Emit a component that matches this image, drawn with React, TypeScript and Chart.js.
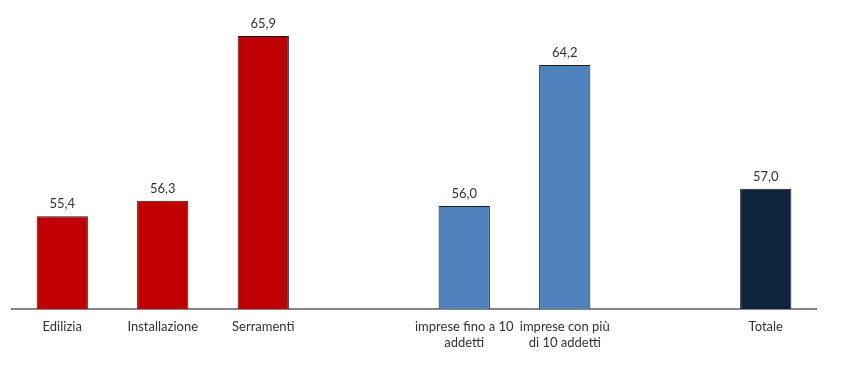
import React, { useEffect, useRef } from "react";
import { Chart, registerables } from "chart.js";

Chart.register(...registerables);

const categories: (string | string[])[] = [
  "Edilizia",
  "Installazione",
  "Serramenti",
  "",
  ["imprese fino a 10", "addetti"],
  ["imprese con più", "di 10 addetti"],
  "",
  "Totale",
];
const values: (number | null)[] = [55.4, 56.3, 65.9, null, 56.0, 64.2, null, 57.0];
const barColors: string[] = [
  "#C00000",
  "#C00000",
  "#C00000",
  "#C00000",
  "#4F81BD",
  "#4F81BD",
  "#4F81BD",
  "#10243E",
];
const yMin = 50;
const yMax = 67;

const FONT = "Lato, 'Open Sans', sans-serif";

const valueLabels = {
  id: "valueLabels",
  afterDatasetsDraw(chart: any) {
    const ctx = chart.ctx;
    const meta = chart.getDatasetMeta(0);
    ctx.save();
    ctx.font = `13px ${FONT}`;
    ctx.fillStyle = "#333333";
    ctx.textAlign = "center";
    ctx.textBaseline = "middle";
    meta.data.forEach((el: any, i: number) => {
      const v = values[i];
      if (v === null || v === undefined) return;
      ctx.fillText(v.toFixed(1).replace(".", ","), el.x, el.y - 12);
    });
    ctx.restore();
  },
};

export default function App() {
  const ref = useRef<HTMLCanvasElement>(null);
  useEffect(() => {
    if (!ref.current) return;
    const chart = new Chart(ref.current, {
      type: "bar",
      data: {
        labels: categories,
        datasets: [
          {
            data: values,
            backgroundColor: barColors,
            borderColor: "#1a1a1a",
            borderWidth: 1,
            borderSkipped: false,
            barPercentage: 0.51,
            categoryPercentage: 1,
          },
        ],
      },
      options: {
        animation: false,
        responsive: false,
        layout: { padding: { left: 12, right: 47, top: 17, bottom: 0 } },
        plugins: { legend: { display: false }, tooltip: { enabled: false } },
        scales: {
          x: {
            grid: { display: false, drawTicks: false },
            border: { display: true, color: "#868686", width: 2 },
            ticks: {
              color: "#333333",
              font: { family: FONT, size: 13, lineHeight: 16 / 13 },
              padding: 10,
              maxRotation: 0,
              autoSkip: false,
            },
            afterFit: (scale: any) => {
              scale.height = 67;
            },
          },
          y: {
            display: false,
            min: yMin,
            max: yMax,
          },
        },
      },
      plugins: [valueLabels],
    });
    return () => chart.destroy();
  }, []);
  return (
    <div style={{ position: "absolute", left: 0, top: 0, width: 863, height: 376, background: "#fff" }}>
      <canvas ref={ref} width={863} height={376} />
    </div>
  );
}
